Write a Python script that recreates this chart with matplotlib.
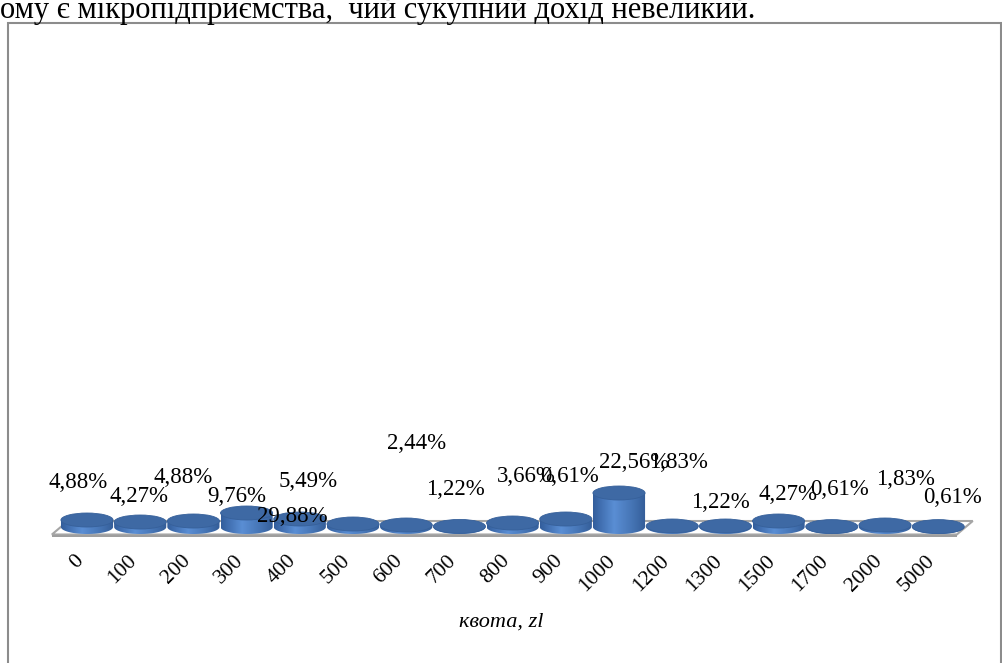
"""
Excel-style 3D cylinder column chart: distribution of quota (kvota, zl).
"""

import numpy as np
import matplotlib
matplotlib.use("Agg")
import matplotlib.pyplot as plt
import matplotlib.patches as mpatches
from matplotlib.path import Path

# ── Data ─────────────────────────────────────────────────────────────────────
categories = ["0", "100", "200", "300", "400", "500", "600", "700", "800",
              "900", "1000", "1200", "1300", "1500", "1700", "2000", "5000"]
shares = [4.88, 4.27, 4.88, 9.76, 29.88, 5.49, 2.44, 1.22, 3.66,
          0.61, 22.56, 1.83, 1.22, 4.27, 0.61, 1.83, 0.61]
# visible column heights as they appear (the value axis is squashed flat)
cylinder_heights = [7, 5, 6, 14, 8, 3, 2, 0.6, 4, 8, 34, 1, 1, 6, 0.4, 2, 0.4]

# data-label offsets (pixels) from each column foot: (dx, baseline above floor)
LABEL_OFFSETS = [(-9, 39), (-1, 25), (-10, 44), (-10, 25), (-7, 5), (-45, 40),
                 (10, 78), (-4, 32), (14, 45), (4, 45), (15, 59), (6, 59),
                 (-5, 19), (9, 27), (8, 32), (20, 42), (14, 24)]

TOP_TEXT = "ому є мікропідприємства,  чий сукупний дохід невеликий."
X_TITLE = "квота, zl"

W_PX, H_PX = 1003, 663
X0_PX, STEP_PX, FLOOR_PX = 87, 53.2, 527
CYL_W = 0.98      # in category units
CYL_RY = 7        # half height of the ellipses, px

SERIF = "Liberation Serif"

fig = plt.figure(figsize=(W_PX / 100, H_PX / 100), dpi=100)
ax = fig.add_axes([0, 0, 1, 1])
ax.set_xlim(-X0_PX / STEP_PX, (W_PX - X0_PX) / STEP_PX)
ax.set_ylim(FLOOR_PX - H_PX, FLOOR_PX)
ax.axis("off")

# ── Floor ───────────────────────────────────────────────────────────────────
n = len(categories)
floor = mpatches.Polygon([(-0.66, -7.5), (n - 0.65, -7.5),
                          (n - 0.35, 6), (-0.36, 6)],
                         closed=True, facecolor="white",
                         edgecolor="#A6A6A6", lw=1.5, zorder=1)
ax.add_patch(floor)
ax.add_patch(mpatches.Rectangle((-0.66, -9.5), n - 0.65 + 0.66, 2,
                                facecolor="#9E9E9E", edgecolor="none",
                                zorder=1))

# ── Cylinders ───────────────────────────────────────────────────────────────
grad_pos = [0.0, 0.12, 0.4, 0.75, 1.0]
grad_col = np.array([[0x33, 0x5E, 0x9C], [0x3F, 0x6D, 0xAE],
                     [0x5A, 0x8E, 0xD4], [0x45, 0x74, 0xB4],
                     [0x34, 0x5D, 0x98]]) / 255.0
t = np.linspace(0, 1, 64)
grad = np.stack([np.interp(t, grad_pos, grad_col[:, k]) for k in range(3)],
                axis=-1)[np.newaxis, :, :]

for i, h in enumerate(cylinder_heights):
    x0, x1 = i - CYL_W / 2, i + CYL_W / 2
    th = np.linspace(0, -np.pi, 40)
    verts = [(x0, 0), (x0, h), (x1, h)]
    verts += [(i + CYL_W / 2 * np.cos(a), CYL_RY * np.sin(a)) for a in th]
    verts.append((x0, 0))
    body = mpatches.PathPatch(Path(verts), facecolor="none",
                              edgecolor="none", zorder=2 + i * 0.01)
    ax.add_patch(body)
    im = ax.imshow(grad, extent=[x0, x1, -CYL_RY, h + 0.01],
                   aspect="auto", zorder=2 + i * 0.01, interpolation="bilinear")
    im.set_clip_path(body)
    ax.add_patch(mpatches.Ellipse((i, h), CYL_W, 2 * CYL_RY,
                                  facecolor="#3E69A4", edgecolor="#36609A",
                                  lw=0.6, zorder=2.005 + i * 0.01))

ax.set_xlim(-X0_PX / STEP_PX, (W_PX - X0_PX) / STEP_PX)
ax.set_ylim(FLOOR_PX - H_PX, FLOOR_PX)

# ── Data labels ─────────────────────────────────────────────────────────────
for i, (v, (dx, dy)) in enumerate(zip(shares, LABEL_OFFSETS)):
    ax.annotate(f"{v:.2f}%".replace(".", ","), xy=(i, 0),
                xytext=(dx, dy), textcoords="offset pixels",
                ha="center", va="baseline", fontsize=16.5,
                family=SERIF, color="black", zorder=5)

# ── Category labels ─────────────────────────────────────────────────────────
for i, lab in enumerate(categories):
    ax.annotate(lab, xy=(i, 0), xytext=(-6, -31), textcoords="offset pixels",
                ha="right", va="center", rotation=45,
                rotation_mode="anchor", fontsize=15.5, family=SERIF,
                zorder=5)

fig.text(501 / W_PX, 1 - 622 / H_PX, X_TITLE, ha="center", va="center",
         fontsize=16, family=SERIF, style="italic")

# ── Chart frame and leftover text line ──────────────────────────────────────
fig.add_artist(mpatches.Rectangle((8 / W_PX, -0.02),
                                  (1001 - 8) / W_PX, 1.02 - 23 / H_PX,
                                  transform=fig.transFigure, fill=False,
                                  edgecolor="#8C8C8C", lw=1.5))
fig.text(0, 1 - 18 / H_PX, TOP_TEXT, ha="left", va="baseline",
         fontsize=22, family=SERIF)

fig.savefig("out.png", dpi=100)
